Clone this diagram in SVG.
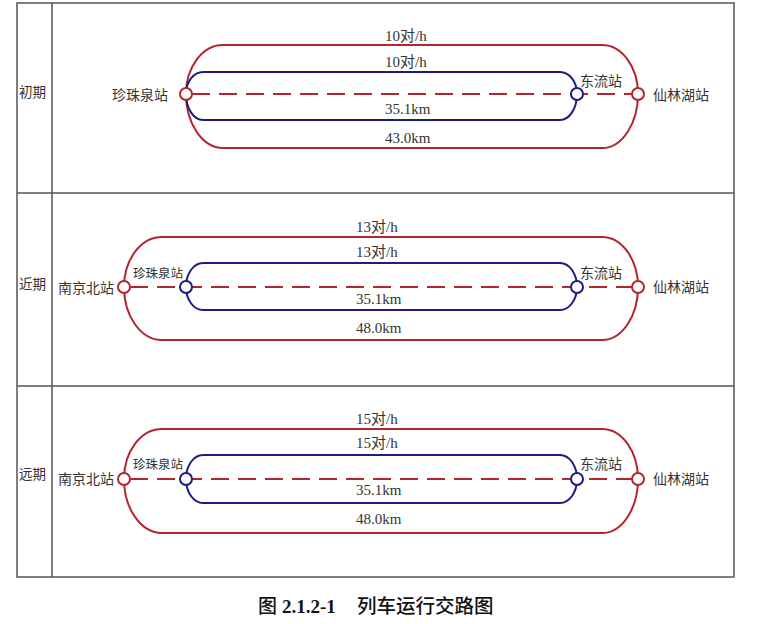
<svg xmlns="http://www.w3.org/2000/svg" width="760" height="624" viewBox="0 0 760 624">
<style>
.grid{fill:none;stroke:#555;stroke-width:1.5}
.red{fill:none;stroke:#b3262e;stroke-width:2}
.blue{fill:none;stroke:#1c1c84;stroke-width:2}
.dash{fill:none;stroke:#b3262e;stroke-width:2.2;stroke-dasharray:18 9}
.sr{fill:#fff;stroke:#b3262e;stroke-width:2}
.sb{fill:#fff;stroke:#1c1c84;stroke-width:2}
.st{font-family:"Noto Sans CJK SC","Noto Sans",sans-serif;font-size:14px;fill:#333}
.sm{font-family:"Noto Sans CJK SC","Noto Sans",sans-serif;font-size:12.5px;fill:#333}
.lb{font-family:"Liberation Serif","Noto Sans CJK SC",serif;font-size:15px;fill:#333}
.row{font-family:"Noto Sans CJK SC","Noto Sans",sans-serif;font-size:13.5px;fill:#333}
</style>
<rect width="760" height="624" fill="#fff"/>
<g id="table">
<rect class="grid" x="17" y="3" width="717" height="574"/>
<line class="grid" x1="52" y1="3" x2="52" y2="577"/>
<line class="grid" x1="17" y1="193" x2="734" y2="193"/>
<line class="grid" x1="17" y1="386" x2="734" y2="386"/>
<text class="row" x="19" y="97">初期</text>
<text class="row" x="19" y="289">近期</text>
<text class="row" x="19" y="479">远期</text>
</g>
<g id="connectors">
<path class="red" d="M186,94 A37,49 0 0 1 223,45 H602 A36,49 0 0 1 638,94 A36,54 0 0 1 602,148 H223 A37,54 0 0 1 186,94 Z"/>
<path class="blue" d="M186,94 A17,22 0 0 1 203,72 H560 A17,22 0 0 1 577,94 A17,26 0 0 1 560,120 H203 A17,26 0 0 1 186,94 Z"/>
<line class="dash" x1="192" y1="94" x2="632" y2="94"/>
<path class="red" d="M124,287 A38,50 0 0 1 162,237 H602 A36,50 0 0 1 638,287 A36,53 0 0 1 602,340 H162 A38,53 0 0 1 124,287 Z"/>
<path class="blue" d="M186,287 A17,24 0 0 1 203,263 H560 A17,24 0 0 1 577,287 A17,23 0 0 1 560,310 H203 A17,23 0 0 1 186,287 Z"/>
<line class="dash" x1="130" y1="287" x2="632" y2="287"/>
<path class="red" d="M124,479 A38,50 0 0 1 162,429 H602 A36,50 0 0 1 638,479 A36,54 0 0 1 602,533 H162 A38,54 0 0 1 124,479 Z"/>
<path class="blue" d="M186,479 A17,24 0 0 1 203,455 H560 A17,24 0 0 1 577,479 A17,24 0 0 1 560,503 H203 A17,24 0 0 1 186,479 Z"/>
<line class="dash" x1="130" y1="479" x2="632" y2="479"/>
</g>
<g id="labels1">
<text class="lb" x="385" y="41">10对/h</text>
<text class="lb" x="385" y="67">10对/h</text>
<text class="lb" x="385" y="114">35.1km</text>
<text class="lb" x="385" y="143">43.0km</text>
</g>
<g id="labels2">
<text class="lb" x="356" y="232">13对/h</text>
<text class="lb" x="356" y="257">13对/h</text>
<text class="lb" x="356" y="304">35.1km</text>
<text class="lb" x="356" y="333">48.0km</text>
</g>
<g id="labels3">
<text class="lb" x="356" y="424">15对/h</text>
<text class="lb" x="356" y="448">15对/h</text>
<text class="lb" x="356" y="495">35.1km</text>
<text class="lb" x="356" y="524">48.0km</text>
</g>
<g id="zhenzhuquan-1"><circle class="sr" cx="186" cy="94" r="6"/><text class="st" x="168" y="100" text-anchor="end">珍珠泉站</text></g>
<g id="dongliu-1"><circle class="sb" cx="577" cy="94" r="6"/><text class="st" x="580" y="86">东流站</text></g>
<g id="xianlinhu-1"><circle class="sr" cx="638" cy="94" r="6"/><text class="st" x="653" y="100">仙林湖站</text></g>
<g id="nanjingbei-2"><circle class="sr" cx="124" cy="287" r="6"/><text class="st" x="58" y="293">南京北站</text></g>
<g id="zhenzhuquan-2"><circle class="sb" cx="186" cy="287" r="6"/><text class="sm" x="133" y="278">珍珠泉站</text></g>
<g id="dongliu-2"><circle class="sb" cx="577" cy="287" r="6"/><text class="st" x="580" y="278">东流站</text></g>
<g id="xianlinhu-2"><circle class="sr" cx="638" cy="287" r="6"/><text class="st" x="653" y="292">仙林湖站</text></g>
<g id="nanjingbei-3"><circle class="sr" cx="124" cy="479" r="6"/><text class="st" x="58" y="484">南京北站</text></g>
<g id="zhenzhuquan-3"><circle class="sb" cx="186" cy="479" r="6"/><text class="sm" x="133" y="469">珍珠泉站</text></g>
<g id="dongliu-3"><circle class="sb" cx="577" cy="479" r="6"/><text class="st" x="580" y="469">东流站</text></g>
<g id="xianlinhu-3"><circle class="sr" cx="638" cy="479" r="6"/><text class="st" x="653" y="484">仙林湖站</text></g>
<g id="caption">
<text x="258" y="613" font-family="Noto Sans CJK SC,sans-serif" font-size="19" font-weight="500" fill="#111">图</text>
<text x="282" y="613" font-family="Liberation Serif,serif" font-size="19" font-weight="bold" fill="#111">2.1.2-1</text>
<text x="357" y="613" font-family="Noto Sans CJK SC,sans-serif" font-size="19.5" font-weight="500" fill="#111">列车运行交路图</text>
</g>
</svg>
